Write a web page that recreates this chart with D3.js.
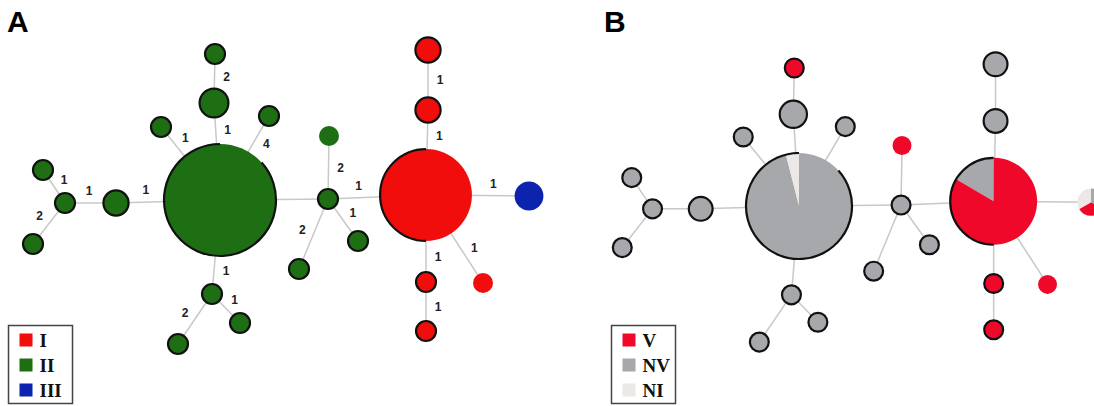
<!DOCTYPE html>
<html lang="en">
<head>
<meta charset="UTF-8">
<script src="https://d3js.org/d3.v7.min.js"></script>
<title>MST of isolates</title>
<style>
  body { margin: 0; background: #fff; }
  svg { display: block; }
  .lbl { font-family: "Liberation Sans", Arial, sans-serif; font-weight: bold; font-size: 12px; fill: #222; }
  .panel { font-family: "Liberation Sans", Arial, sans-serif; font-weight: bold; font-size: 30px; fill: #000; }
  .leg { font-family: "Liberation Serif", serif; font-weight: bold; font-size: 19px; fill: #111; }
</style>
</head>
<body>
<svg width="1094" height="406"></svg>
<script>
// tree layout in layout units (central type at 0,0)
const nodeX = [0, -6, -5, -59, 49, -104, -155, -177, -187, -8, 20, -42, 108, 109, 138, 79, 206, 208, 208, 309, 206, 206, 263];
const nodeY = [0, -97, -146, -73, -84, 3, 3, -30, 44, 94, 123, 144, -1, -64, 41, 69, -5, -90, -150, -4, 82, 131, 83];
// isolates per node
const nodeSize = [176, 3, 1, 1, 1, 2, 1, 1, 1, 1, 1, 1, 1, 1, 1, 1, 97, 2, 2, 3, 1, 1, 1];
// panel A: type of each node
const nodeType = ["II","II","II","II","II","II","II","II","II","II","II","II","II","II","II","II","I","I","I","III","I","I","I"];
// panel B: isolates per virulence class
const nodeV  = [0,   0, 1, 0, 0, 0, 0, 0, 0, 0, 0, 0, 0, 1, 0, 0, 81, 0, 0, 1, 1, 1, 1];
const nodeNV = [169, 3, 0, 1, 1, 2, 1, 1, 1, 1, 1, 1, 1, 0, 1, 1, 16, 2, 2, 1, 0, 0, 0];
const nodeNI = [7,   0, 0, 0, 0, 0, 0, 0, 0, 0, 0, 0, 0, 0, 0, 0, 0,  0, 0, 1, 0, 0, 0];
// links and the number of differences written on them
const edgeFrom = [0, 1, 0, 0, 0, 5, 6, 6, 9, 10, 9, 0, 12, 16, 14, 12, 16, 17, 19, 20, 21, 22];
const edgeTo   = [1, 2, 3, 4, 5, 6, 7, 8, 0, 9, 11, 12, 13, 12, 12, 15, 17, 18, 16, 16, 20, 16];
const edgeDist = ["1","2","1","4","1","1","1","2","1","1","2","","2","1","1","2","1","1","1","1","1","1"];

const typeNames = ["I", "II", "III"];
const virNames = ["V", "NV", "NI"];

const typeColor = d3.scaleOrdinal().domain(typeNames).range(["#f20d0d", "#1e6e13", "#0b23ad"]);
const virColor = d3.scaleOrdinal().domain(virNames).range(["#f0082a", "#a6a8ab", "#ebe8e6"]);

const noOutline = [13, 19, 22];
const partOutline = {0: [48, 360], 16: [180, 360]};

const svg = d3.select("svg");

const nodes = nodeX.map((d, i) => ({
  id: i, x: d, y: nodeY[i], n: nodeSize[i], type: nodeType[i],
  vir: {V: nodeV[i], NV: nodeNV[i], NI: nodeNI[i]}
}));
const edges = edgeFrom.map((d, i) => ({s: nodes[d], t: nodes[edgeTo[i]], label: edgeDist[i]}));

const pie = d3.pie().value(d => d.n);
const pieOrder = ["NV", "V", "NI"];

function drawPanel(g, x, y, r, mode) {
  g.selectAll("line.edge")
    .data(edges)
    .enter()
    .append("line")
    .attr("class", "edge")
    .attr("x1", d => x(d.s.x)).attr("y1", d => y(d.s.y))
    .attr("x2", d => x(d.t.x)).attr("y2", d => y(d.t.y))
    .attr("stroke", "#c8c8c8")
    .attr("stroke-width", 1.5);

  if (mode == "A") {
    g.selectAll("text.lbl")
      .data(edges.filter(d => d.label != ""))
      .enter()
      .append("text")
      .attr("class", "lbl")
      .attr("text-anchor", "middle")
      .attr("dy", "0.36em")
      .each(function(d) {
        const x1 = x(d.s.x), y1 = y(d.s.y), x2 = x(d.t.x), y2 = y(d.t.y);
        const len = Math.hypot(x2 - x1, y2 - y1);
        const ux = (x2 - x1) / len, uy = (y2 - y1) / len;
        const a = r(d.s.n) + 1, b = len - r(d.t.n) - 1;
        const m = (a + b) / 2;
        d3.select(this)
          .attr("x", x1 + ux * m - uy * 12)
          .attr("y", y1 + uy * m + ux * 12);
      })
      .text(d => d.label);
  }

  const node = g.selectAll("g.node")
    .data(nodes)
    .enter()
    .append("g")
    .attr("class", "node")
    .attr("transform", d => "translate(" + x(d.x) + "," + y(d.y) + ")");

  node.each(function(d) {
    const sel = d3.select(this);
    const rad = r(d.n);
    if (mode == "A") {
      sel.append("circle").attr("r", rad).attr("fill", typeColor(d.type));
    } else {
      const parts = pieOrder.map(k => ({k: k, n: d.vir[k]})).filter(p => p.n > 0);
      if (parts.length == 1) {
        sel.append("circle").attr("r", rad).attr("fill", virColor(parts[0].k));
      } else {
        const arc = d3.arc().innerRadius(0).outerRadius(rad);
        sel.selectAll("path.slice")
          .data(pie(parts))
          .enter()
          .append("path")
          .attr("class", "slice")
          .attr("d", arc)
          .attr("fill", p => virColor(p.data.k));
      }
    }
    if (noOutline.includes(d.id)) return;
    if (partOutline[d.id]) {
      const span = partOutline[d.id];
      const ring = d3.arc().innerRadius(rad).outerRadius(rad)
        .startAngle(span[0] * Math.PI / 180).endAngle(span[1] * Math.PI / 180);
      sel.append("path").attr("d", ring()).attr("fill", "none")
        .attr("stroke", "#111").attr("stroke-width", 2.2);
    } else {
      sel.append("circle").attr("r", rad).attr("fill", "none")
        .attr("stroke", "#111").attr("stroke-width", 2.2);
    }
  });
}

// panel A
const xA = d3.scaleLinear().domain([-200, 320]).range([20, 540]);
const yA = d3.scaleLinear().domain([-160, 150]).range([40, 350]);
const rA = d3.scalePow().exponent(1 / 3).domain([0, 176]).range([0, 56]);
drawPanel(svg.append("g"), xA, yA, rA, "A");

// panel B, same tree drawn a little smaller
const xB = d3.scaleLinear().domain([-200, 320]).range([610, 1101.4]);
const yB = d3.scaleLinear().domain([-160, 150]).range([54.8, 347.75]);
const rB = d3.scalePow().exponent(1 / 3).domain([0, 176]).range([0, 53]);
drawPanel(svg.append("g"), xB, yB, rB, "B");

svg.append("text").attr("class", "panel").attr("x", 7).attr("y", 32).text("A");
svg.append("text").attr("class", "panel").attr("x", 604).attr("y", 32).text("B");

function legend(x0, names, color) {
  const g = svg.append("g").attr("transform", "translate(" + x0 + ",325.5)");
  g.append("rect").attr("width", 64).attr("height", 78)
    .attr("fill", "#fff").attr("stroke", "#444").attr("stroke-width", 1.5);
  const item = g.selectAll("g.item")
    .data(names)
    .enter()
    .append("g")
    .attr("class", "item")
    .attr("transform", (d, i) => "translate(11," + (8 + i * 25) + ")");
  item.append("rect").attr("width", 13).attr("height", 13).attr("fill", d => color(d));
  item.append("text").attr("class", "leg").attr("x", 20).attr("y", 13).text(d => d);
}
legend(8.5, typeNames, typeColor);
legend(611.5, virNames, virColor);
</script>
</body>
</html>
